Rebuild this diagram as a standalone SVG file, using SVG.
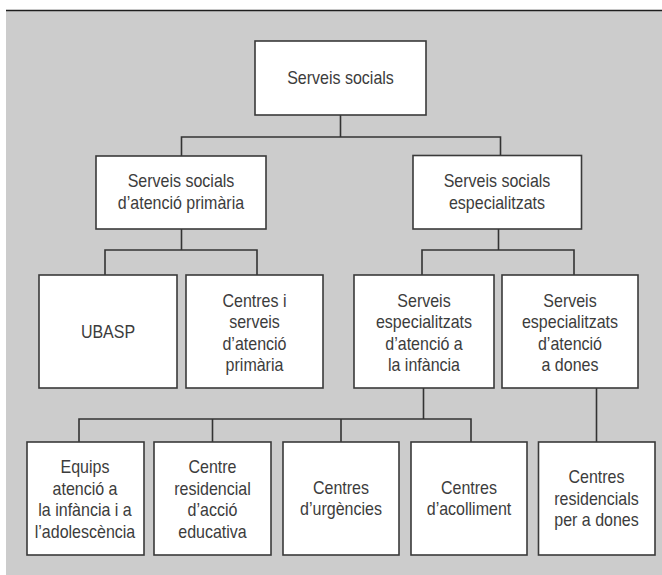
<svg xmlns="http://www.w3.org/2000/svg" width="662" height="575" viewBox="0 0 662 575">
<style>
.box{fill:#ffffff;stroke:#3a3a3a;stroke-width:1.6}
.lbl{font-family:"Liberation Sans",Arial,sans-serif;font-size:18px;fill:#3c3c3c;text-anchor:middle}
.conn{fill:none;stroke:#333333;stroke-width:1.6}
</style>
<rect x="0" y="0" width="662" height="575" fill="#ffffff"/>
<rect x="6" y="11" width="656" height="564" fill="#cccccc"/>
<line x1="6" y1="10.5" x2="662" y2="10.5" stroke="#1e1e1e" stroke-width="1.6"/>
<g id="connectors">
<path class="conn" d="M340.5 115 V137 M181.5 156 V137 H500.5 V155"/>
<path class="conn" d="M181.5 229 V250 M105 275 V250 H257 V275"/>
<path class="conn" d="M498.5 229 V250 M422 275 V250 H574 V275"/>
<path class="conn" d="M423.5 388 V419 M79 442 V419 H471 V442 M212.5 419 V442 M341 419 V442"/>
<path class="conn" d="M596.5 388 V442"/>
</g>
<g id="n-serveis-socials">
<rect class="box" x="255" y="41" width="171" height="74"/>
<text class="lbl" transform="translate(340.5 0) scale(0.89 1)"><tspan x="0" y="84">Serveis socials</tspan></text>
</g>
<g id="n-primaria">
<rect class="box" x="96" y="156" width="170" height="73"/>
<text class="lbl" transform="translate(181 0) scale(0.89 1)"><tspan x="0" y="187.5">Serveis socials</tspan><tspan x="0" y="209">d’atenció primària</tspan></text>
</g>
<g id="n-especialitzats">
<rect class="box" x="413" y="155.5" width="168.5" height="73.5"/>
<text class="lbl" transform="translate(497 0) scale(0.89 1)"><tspan x="0" y="187.5">Serveis socials</tspan><tspan x="0" y="209">especialitzats</tspan></text>
</g>
<g id="n-ubasp">
<rect class="box" x="39" y="275" width="138" height="113"/>
<text class="lbl" transform="translate(108 0) scale(0.89 1)"><tspan x="0" y="338">UBASP</tspan></text>
</g>
<g id="n-centres-serveis">
<rect class="box" x="186" y="275" width="137" height="113"/>
<text class="lbl" transform="translate(254.5 0) scale(0.89 1)"><tspan x="0" y="307">Centres i</tspan><tspan x="0" y="328.5">serveis</tspan><tspan x="0" y="350">d’atenció</tspan><tspan x="0" y="371.5">primària</tspan></text>
</g>
<g id="n-infancia">
<rect class="box" x="354" y="275" width="140" height="113"/>
<text class="lbl" transform="translate(424 0) scale(0.89 1)"><tspan x="0" y="307">Serveis</tspan><tspan x="0" y="328.5">especialitzats</tspan><tspan x="0" y="350">d’atenció a</tspan><tspan x="0" y="371.5">la infància</tspan></text>
</g>
<g id="n-dones">
<rect class="box" x="502" y="275" width="136" height="113"/>
<text class="lbl" transform="translate(570 0) scale(0.89 1)"><tspan x="0" y="307">Serveis</tspan><tspan x="0" y="328.5">especialitzats</tspan><tspan x="0" y="350">d’atenció</tspan><tspan x="0" y="371.5">a dones</tspan></text>
</g>
<g id="n-equips">
<rect class="box" x="27" y="442" width="117" height="113"/>
<text class="lbl" transform="translate(85 0) scale(0.89 1)"><tspan x="0" y="473.5">Equips</tspan><tspan x="0" y="495">atenció a</tspan><tspan x="0" y="516.5">la infància i a</tspan><tspan x="0" y="538">l’adolescència</tspan></text>
</g>
<g id="n-centre-residencial">
<rect class="box" x="154" y="442" width="117" height="113"/>
<text class="lbl" transform="translate(212.5 0) scale(0.89 1)"><tspan x="0" y="473.5">Centre</tspan><tspan x="0" y="495">residencial</tspan><tspan x="0" y="516.5">d’acció</tspan><tspan x="0" y="538">educativa</tspan></text>
</g>
<g id="n-urgencies">
<rect class="box" x="283" y="442" width="116" height="113"/>
<text class="lbl" transform="translate(341 0) scale(0.89 1)"><tspan x="0" y="494">Centres</tspan><tspan x="0" y="515.5">d’urgències</tspan></text>
</g>
<g id="n-acolliment">
<rect class="box" x="411" y="442" width="116" height="113"/>
<text class="lbl" transform="translate(469 0) scale(0.89 1)"><tspan x="0" y="494">Centres</tspan><tspan x="0" y="515.5">d’acolliment</tspan></text>
</g>
<g id="n-residencials-dones">
<rect class="box" x="538.5" y="442" width="116.5" height="113"/>
<text class="lbl" transform="translate(596.5 0) scale(0.89 1)"><tspan x="0" y="483.5">Centres</tspan><tspan x="0" y="505">residencials</tspan><tspan x="0" y="526.5">per a dones</tspan></text>
</g>
</svg>
